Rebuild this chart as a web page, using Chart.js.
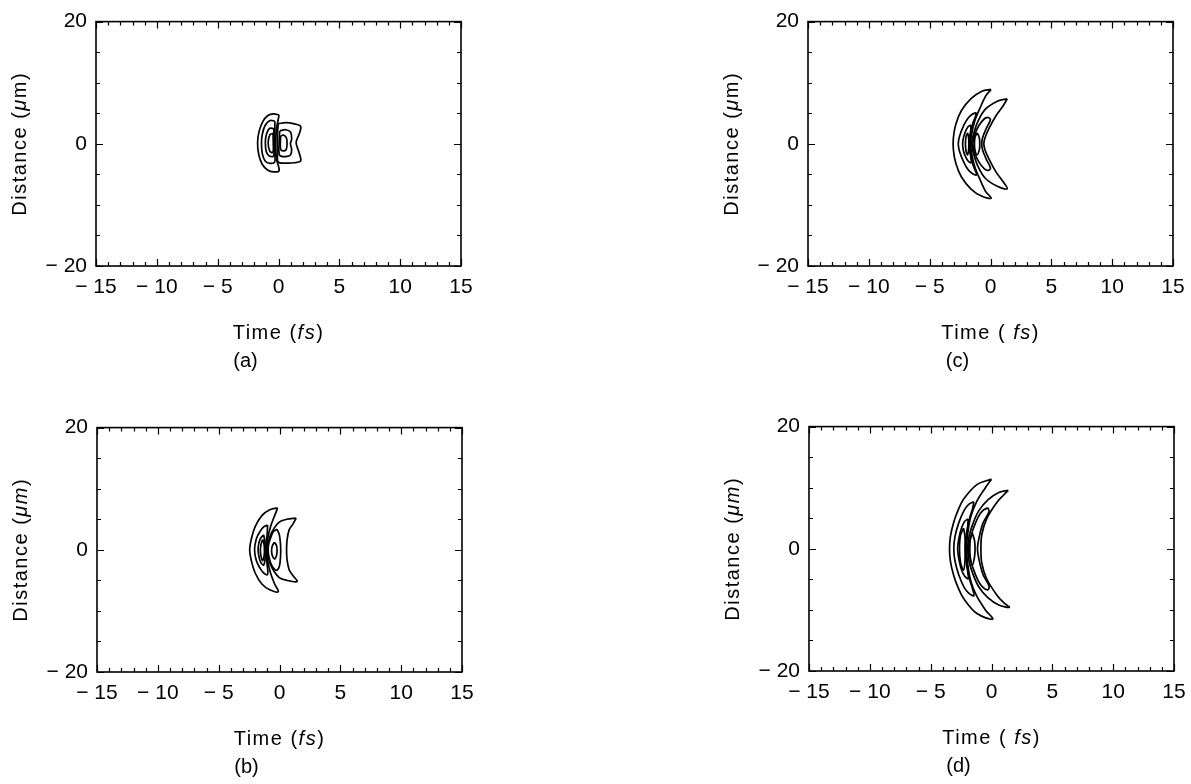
<!DOCTYPE html>
<html>
<head>
<meta charset="utf-8">
<title>Contours</title>
<script src="https://cdn.jsdelivr.net/npm/chart.js@4.4.0/dist/chart.umd.min.js"></script>
<style>
  body { margin: 0; background: #fff; width: 1191px; height: 784px; overflow: hidden; position: relative; }
  canvas { position: absolute; }
</style>
</head>
<body>
<canvas id="pa" width="560" height="392" style="left:0px;top:0px"></canvas>
<canvas id="pc" width="560" height="392" style="left:712px;top:0px"></canvas>
<canvas id="pb" width="560" height="392" style="left:1px;top:406px"></canvas>
<canvas id="pd" width="560" height="392" style="left:713px;top:405px"></canvas>
<script>
// tick labels
var timeTicks = [-15, -10, -5, 0, 5, 10, 15];
var distTicks = [-20, 0, 20];

// contour lines, [time fs, distance um]
var contoursA = [
  [[0.05,4.7],[-0.4,4.9],[-0.9,4.6],[-1.3,3.6],[-1.6,2.0],[-1.72,0.2],[-1.62,-1.8],[-1.35,-3.3],[-0.9,-4.3],[-0.4,-4.6],[0.05,-4.4],[-0.15,-2.6],[-0.25,-0.2],[-0.15,2.6],[0.05,4.7]],
  [[-0.3,3.7],[-0.7,3.8],[-1.1,3.0],[-1.33,1.6],[-1.4,0.1],[-1.33,-1.6],[-1.1,-2.8],[-0.7,-3.2],[-0.32,-3.0],[-0.3,-1.5],[-0.32,0.1],[-0.3,1.8],[-0.3,3.7]],
  [[-0.38,2.5],[-0.75,2.5],[-1.0,1.5],[-1.08,0.1],[-1.0,-1.3],[-0.75,-2.0],[-0.4,-2.0],[-0.37,0.1],[-0.38,2.5]],
  [[-0.45,1.7],[-0.7,1.5],[-0.85,0.2],[-0.72,-1.2],[-0.46,-1.4],[-0.43,0.1],[-0.45,1.7]],
  [[-0.02,3.3],[0.6,3.45],[1.3,3.25],[1.82,2.85],[1.7,1.6],[1.45,0.2],[1.7,-1.5],[1.82,-2.8],[1.3,-3.1],[0.6,-3.15],[-0.02,-3.0],[-0.08,-1.5],[-0.1,0.1],[-0.08,1.8],[-0.02,3.3]],
  [[0.1,2.1],[0.6,2.3],[1.0,1.9],[1.08,0.8],[0.98,0.0],[1.08,-0.9],[1.0,-1.8],[0.6,-2.1],[0.1,-1.9],[0.05,0.1],[0.1,2.1]],
  [[0.18,1.3],[0.45,1.4],[0.66,0.9],[0.7,0.0],[0.64,-0.9],[0.45,-1.15],[0.2,-1.0],[0.15,0.1],[0.18,1.3]]
];

var contoursB = [
  [[-0.15,6.85],[-0.8,6.55],[-1.45,5.6],[-2.0,3.8],[-2.3,1.9],[-2.45,0],[-2.3,-1.9],[-2.0,-3.8],[-1.45,-5.6],[-0.8,-6.55],[-0.1,-6.85],[-0.4,-5.6],[-0.75,-3.7],[-1.0,-1.6],[-1.08,0],[-1.0,1.6],[-0.75,3.7],[-0.4,5.6],[-0.15,6.85]],
  [[-0.98,4.05],[-1.3,3.75],[-1.6,3.0],[-1.9,1.8],[-2.05,0],[-1.9,-1.8],[-1.6,-3.0],[-1.3,-3.8],[-0.98,-4.05],[-1.02,-2.4],[-1.12,-1.0],[-1.13,0],[-1.12,1.0],[-1.02,2.4],[-0.98,4.05]],
  [[-1.3,2.45],[-1.58,1.8],[-1.75,0.5],[-1.72,-0.8],[-1.55,-2.0],[-1.3,-2.5],[-1.18,-1.2],[-1.17,0],[-1.2,1.2],[-1.3,2.45]],
  [[-1.38,1.7],[-1.52,0.9],[-1.57,-0.2],[-1.5,-1.2],[-1.38,-1.77],[-1.26,-0.9],[-1.24,0],[-1.27,0.9],[-1.38,1.7]],
  [[1.37,5.2],[0.6,5.0],[-0.05,4.5],[-0.6,3.0],[-0.9,1.5],[-1.0,0],[-0.9,-1.5],[-0.6,-3.0],[-0.05,-4.5],[0.6,-5.0],[1.45,-5.2],[1.1,-4.2],[0.8,-3.3],[0.62,-1.6],[0.58,0],[0.62,1.6],[0.8,3.3],[1.1,4.2],[1.37,5.2]],
  [[-0.2,3.35],[-0.5,3.0],[-0.7,2.1],[-0.88,1.0],[-0.93,0],[-0.88,-1.0],[-0.7,-2.3],[-0.45,-3.1],[-0.2,-3.35],[0.0,-2.6],[0.08,-1.2],[0.1,0],[0.07,1.2],[-0.02,2.5],[-0.2,3.35]],
  [[-0.42,1.25],[-0.6,0.6],[-0.65,-0.2],[-0.58,-1.0],[-0.4,-1.5],[-0.24,-0.9],[-0.2,0],[-0.25,0.7],[-0.42,1.25]]
];

var contoursC = [
  [[0.05,8.9],[-0.7,8.6],[-1.6,7.4],[-2.4,5.4],[-2.85,3.2],[-3.05,1.0],[-3.05,-1.0],[-2.85,-3.2],[-2.4,-5.4],[-1.6,-7.4],[-0.7,-8.6],[0.05,-8.9],[-0.4,-7.8],[-0.85,-5.9],[-1.3,-3.7],[-1.58,-1.3],[-1.63,0],[-1.58,1.3],[-1.3,3.7],[-0.85,5.9],[-0.4,7.8],[0.05,8.9]],
  [[-1.15,5.1],[-1.5,4.85],[-1.85,4.2],[-2.2,3.0],[-2.55,1.2],[-2.65,0],[-2.55,-1.2],[-2.2,-3.0],[-1.85,-4.2],[-1.5,-4.85],[-1.15,-5.1],[-1.25,-4.4],[-1.45,-3.4],[-1.66,-1.3],[-1.7,0],[-1.66,1.3],[-1.45,3.4],[-1.25,4.4],[-1.15,5.1]],
  [[-1.6,3.1],[-1.85,2.8],[-2.1,1.8],[-2.28,0.4],[-2.25,-0.9],[-2.1,-1.9],[-1.85,-2.8],[-1.6,-3.1],[-1.62,-2.2],[-1.72,-1.0],[-1.74,0],[-1.72,1.0],[-1.62,2.2],[-1.6,3.1]],
  [[-1.88,1.8],[-2.0,1.3],[-2.06,0],[-2.0,-1.3],[-1.88,-1.8],[-1.8,-1.0],[-1.78,0],[-1.8,1.0],[-1.88,1.8]],
  [[1.38,7.35],[0.6,7.0],[-0.45,5.6],[-1.05,3.6],[-1.42,1.4],[-1.55,0],[-1.42,-1.4],[-1.05,-3.6],[-0.45,-5.6],[0.6,-7.0],[1.38,-7.35],[1.0,-6.1],[0.45,-4.6],[-0.1,-2.6],[-0.45,-1.0],[-0.55,0],[-0.45,1.0],[-0.1,2.6],[0.45,4.6],[1.0,6.1],[1.38,7.35]],
  [[-0.2,4.35],[-0.5,4.1],[-0.95,3.0],[-1.3,1.5],[-1.45,0],[-1.3,-1.5],[-0.95,-3.0],[-0.5,-4.1],[-0.2,-4.35],[0.0,-4.0],[-0.35,-2.5],[-0.65,-1.0],[-0.72,0],[-0.65,1.0],[-0.35,2.5],[0.0,4.0],[-0.2,4.35]],
  [[-1.1,1.8],[-1.28,1.0],[-1.32,0],[-1.28,-1.0],[-1.1,-1.8],[-0.92,-1.0],[-0.88,0],[-0.92,1.0],[-1.1,1.8]]
];

var contoursD = [
  [[0.0,11.4],[-1.2,10.5],[-2.3,8.1],[-2.75,6.3],[-3.1,4.4],[-3.38,2.0],[-3.45,0],[-3.38,-2.0],[-3.1,-4.4],[-2.75,-6.3],[-2.3,-8.1],[-1.2,-10.6],[0.1,-11.5],[-0.5,-10.0],[-1.2,-7.8],[-1.7,-5.3],[-1.95,-2.6],[-2.05,0],[-1.95,2.6],[-1.7,5.3],[-1.2,7.8],[-0.5,10.0],[0.0,11.4]],
  [[-1.45,7.7],[-1.85,7.3],[-2.25,6.3],[-2.7,4.2],[-3.0,2.0],[-3.1,0],[-3.0,-2.0],[-2.7,-4.2],[-2.25,-6.3],[-1.85,-7.3],[-1.45,-7.7],[-1.55,-6.6],[-1.8,-5.0],[-2.02,-2.6],[-2.1,0],[-2.02,2.6],[-1.8,5.0],[-1.55,6.6],[-1.45,7.7]],
  [[-1.92,4.9],[-2.2,4.5],[-2.45,3.5],[-2.65,2.0],[-2.78,0],[-2.65,-2.0],[-2.45,-3.5],[-2.2,-4.5],[-1.92,-4.9],[-1.95,-3.8],[-2.07,-2.2],[-2.14,0],[-2.07,2.2],[-1.95,3.8],[-1.92,4.9]],
  [[-2.3,3.4],[-2.55,2.2],[-2.63,0],[-2.55,-2.2],[-2.3,-3.5],[-2.18,-2.0],[-2.17,0],[-2.18,2.0],[-2.3,3.4]],
  [[1.38,9.57],[0.6,9.2],[-0.3,8.0],[-1.05,6.2],[-1.55,4.0],[-1.85,2.0],[-1.95,0],[-1.85,-2.0],[-1.55,-4.0],[-1.05,-6.2],[-0.3,-8.0],[0.6,-9.2],[1.46,-9.57],[1.0,-8.8],[0.43,-7.55],[-0.4,-4.9],[-0.8,-2.3],[-0.87,0],[-0.8,2.3],[-0.4,4.9],[0.43,7.55],[1.0,8.8],[1.38,9.57]],
  [[-0.3,6.7],[-0.7,6.3],[-1.1,5.2],[-1.55,3.0],[-1.82,1.0],[-1.88,0],[-1.82,-1.0],[-1.55,-3.0],[-1.1,-5.2],[-0.7,-6.3],[-0.3,-6.7],[-0.2,-6.1],[-0.7,-4.2],[-1.0,-2.0],[-1.15,0],[-1.0,2.0],[-0.7,4.2],[-0.2,6.1],[-0.3,6.7]],
  [[-1.58,2.6],[-1.75,1.4],[-1.78,0],[-1.75,-1.4],[-1.58,-2.7],[-1.4,-1.4],[-1.35,0],[-1.4,1.4],[-1.58,2.6]]
];

var FONT = 'Liberation Sans, Arial, Helvetica, sans-serif';

function fmt(v) {
  return v < 0 ? '\u2212 ' + (-v) : String(v);
}

// text with italic pieces, parts = [[text, italic], ...]
function drawRich(ctx, parts, cx, cy, size, spacing) {
  ctx.letterSpacing = spacing + 'px';
  var total = 0;
  parts.forEach(function (p) {
    ctx.font = (p[1] ? 'italic ' : '') + size + 'px ' + FONT;
    total += ctx.measureText(p[0]).width;
  });
  var x = cx - total / 2;
  ctx.textAlign = 'left';
  ctx.textBaseline = 'middle';
  parts.forEach(function (p) {
    ctx.font = (p[1] ? 'italic ' : '') + size + 'px ' + FONT;
    ctx.fillText(p[0], x, cy);
    x += ctx.measureText(p[0]).width;
  });
  ctx.letterSpacing = '0px';
}

// IDL style box: frame, inward ticks, titles
var boxPlugin = {
  id: 'box',
  afterDraw: function (chart) {
    var ctx = chart.ctx, a = chart.chartArea;
    var x = chart.scales.x, y = chart.scales.y;
    var o = chart.options.plugins.box;
    ctx.save();
    ctx.strokeStyle = '#000';
    ctx.lineWidth = 1.6;
    ctx.strokeRect(a.left, a.top, a.right - a.left, a.bottom - a.top);
    ctx.lineWidth = 1.2;
    ctx.beginPath();
    for (var v = x.min; v <= x.max; v++) {
      var px = Math.round(x.getPixelForValue(v)) + 0.5;
      var len = v % 5 === 0 ? 7 : 4;
      ctx.moveTo(px, a.bottom); ctx.lineTo(px, a.bottom - len);
      ctx.moveTo(px, a.top); ctx.lineTo(px, a.top + len);
    }
    for (var w = y.min; w <= y.max; w += 5) {
      var py = Math.round(y.getPixelForValue(w)) + 0.5;
      var l2 = w % 20 === 0 ? 7 : 4;
      ctx.moveTo(a.left, py); ctx.lineTo(a.left + l2, py);
      ctx.moveTo(a.right, py); ctx.lineTo(a.right - l2, py);
    }
    ctx.stroke();

    ctx.fillStyle = '#000';
    var cx = (a.left + a.right) / 2;
    drawRich(ctx, o.xTitle, cx, a.bottom + 67, 20, 1.5);
    drawRich(ctx, [[o.letter, false]], cx - 33, a.bottom + 95, 20, 0);
    ctx.save();
    ctx.translate(a.left - 76, (a.top + a.bottom) / 2);
    ctx.rotate(-Math.PI / 2);
    drawRich(ctx, o.yTitle, 0, 0, 20, 1.5);
    ctx.restore();
    ctx.restore();
  }
};

function makePanel(id, contours, letter, xTitle, yTitle) {
  var datasets = contours.map(function (c) {
    return {
      data: c.map(function (p) { return { x: p[0], y: p[1] }; }),
      showLine: true,
      borderColor: '#000',
      borderWidth: 1.7,
      pointRadius: 0,
      tension: 0.35,
      fill: false
    };
  });
  var tickFont = { family: FONT, size: 21 };
  new Chart(document.getElementById(id), {
    type: 'scatter',
    data: { datasets: datasets },
    options: {
      responsive: false,
      animation: false,
      devicePixelRatio: 1,
      layout: { padding: { top: 13, right: 99, left: 0, bottom: 0 } },
      plugins: {
        legend: { display: false },
        tooltip: { enabled: false },
        box: { letter: letter, xTitle: xTitle, yTitle: yTitle }
      },
      scales: {
        x: {
          type: 'linear', min: -15, max: 15,
          afterBuildTicks: function (s) { s.ticks = timeTicks.map(function (v) { return { value: v }; }); },
          afterFit: function (s) { s.height = 126; },
          grid: { display: false, drawTicks: false },
          border: { display: false },
          ticks: { autoSkip: false, maxRotation: 0, padding: 9, color: '#000', font: tickFont, callback: fmt }
        },
        y: {
          type: 'linear', min: -20, max: 20,
          afterBuildTicks: function (s) { s.ticks = distTicks.map(function (v) { return { value: v }; }); },
          afterFit: function (s) { s.width = 96; },
          grid: { display: false, drawTicks: false },
          border: { display: false },
          ticks: { padding: 9, color: '#000', font: tickFont, callback: fmt }
        }
      }
    },
    plugins: [boxPlugin]
  });
}

makePanel('pa', contoursA, '(a)', [['Time (', false], ['fs', true], [')', false]], [['Distance (', false], ['\u03bc', true], ['m)', false]]);
makePanel('pc', contoursC, '(c)', [['Time ( ', false], ['fs', true], [')', false]], [['Distance (', false], ['\u03bc', true], ['m)', false]]);
makePanel('pb', contoursB, '(b)', [['Time (', false], ['fs', true], [')', false]], [['Distance (', false], ['\u03bcm', true], [')', false]]);
makePanel('pd', contoursD, '(d)', [['Time ( ', false], ['fs', true], [')', false]], [['Distance (', false], ['\u03bcm', true], [')', false]]);
</script>
</body>
</html>
